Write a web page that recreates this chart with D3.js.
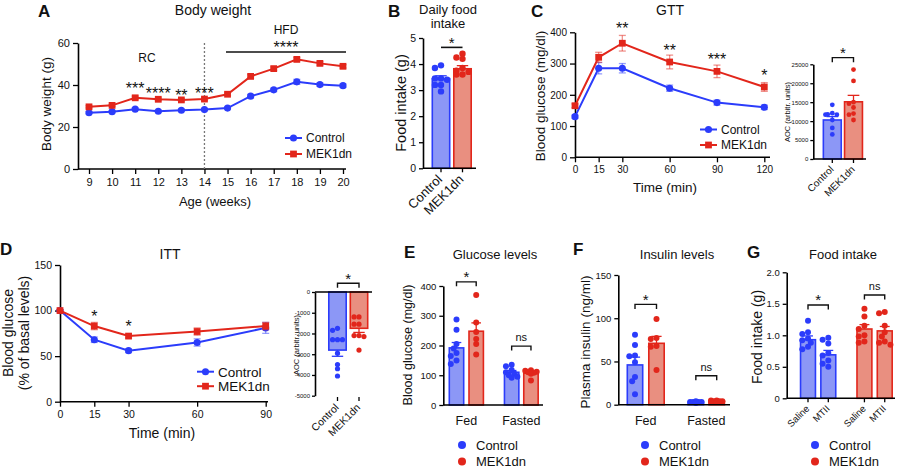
<!DOCTYPE html>
<html>
<head>
<meta charset="utf-8">
<script src="https://cdn.jsdelivr.net/npm/d3@7"></script>
<style>
  body { margin: 0; background: #fff; }
  svg { font-family: "Liberation Sans", Arial, sans-serif; }
</style>
</head>
<body>
<svg id="fig" width="900" height="474"></svg>
<script>
// ---------- data ----------
var groups = ['Control', 'MEK1dn'];

// A: body weight
var weeks = [9, 10, 11, 12, 13, 14, 15, 16, 17, 18, 19, 20];
var bwControl = [26.8, 27.3, 28.5, 27.5, 28.0, 28.3, 29.0, 34.7, 37.7, 41.5, 40.2, 39.7];
var bwControlSem = [0.5, 0.5, 0.5, 0.5, 0.5, 0.5, 0.5, 0.8, 0.8, 1.2, 0.8, 0.8];
var bwMek = [29.6, 30.3, 33.9, 33.2, 32.9, 33.3, 35.6, 44.1, 47.8, 52.2, 50.3, 48.9];
var bwMekSem = [0.5, 0.5, 0.8, 0.6, 0.6, 0.6, 0.6, 0.8, 0.8, 0.8, 0.8, 0.8];
var bwStars = [
  { x: 11, y: 40, label: '***' },
  { x: 12, y: 37.3, label: '****' },
  { x: 13, y: 36.4, label: '**' },
  { x: 14, y: 37.6, label: '***' }
];

// B: daily food intake
var dfControl = [3.95, 3.85, 3.45, 3.45, 3.4, 3.2, 3.2, 2.95];
var dfMek = [4.4, 4.25, 4.2, 3.85, 3.75, 3.7, 3.6, 3.6];
var dfMean = [3.44, 3.82];
var dfSem = [0.11, 0.12];

// C: GTT
var gttTime = [0, 15, 30, 60, 90, 120];
var gttControl = [130, 285, 285, 221, 175, 160];
var gttControlSem = [5, 18, 15, 10, 8, 7];
var gttMek = [165, 320, 365, 305, 275, 225];
var gttMekSem = [6, 16, 25, 22, 20, 14];
var gttStars = [
  { x: 30, y: 423, label: '**' },
  { x: 60, y: 353, label: '**' },
  { x: 90, y: 324, label: '***' },
  { x: 120, y: 273, label: '*' }
];
var gttAocControl = [14300, 12100, 11800, 11700, 11700, 10300, 8200, 6500];
var gttAocMek = [23600, 20600, 15000, 14600, 13600, 12000, 11700, 10300];
var gttAocMean = [10300, 15100];
var gttAocSem = [900, 1700];

// D: ITT
var ittTime = [0, 15, 30, 60, 90];
var ittControl = [100, 68, 56, 65, 81];
var ittControlSem = [1, 3, 2, 4, 6];
var ittMek = [100, 83, 72, 77, 83];
var ittMekSem = [1, 4, 2, 4, 4];
var ittStars = [
  { x: 15, y: 97, label: '*' },
  { x: 30, y: 86, label: '*' }
];
var ittAocControl = [-1750, -1850, -2300, -2300, -2300, -2950, -3500, -3700, -4050];
var ittAocMek = [-1200, -1200, -1550, -1550, -2100, -2100, -2150, -2800];
var ittAocMean = [-2800, -1750];
var ittAocSem = [300, 200];

// E: glucose levels
var glucCats = ['Fed', 'Fasted'];
var glucFedControl = [287, 253, 205, 190, 175, 165, 150, 138];
var glucFedMek = [370, 277, 245, 222, 205, 170];
var glucFastControl = [130, 135, 118, 110, 105, 100, 95, 92];
var glucFastMek = [117, 115, 112, 110, 108, 105, 82];
var glucMean = [192, 248, 110, 107];
var glucSem = [18, 28, 6, 4];

// F: insulin levels
var insCats = ['Fed', 'Fasted'];
var insFedControl = [81, 69, 57, 56, 49, 32, 27, 12];
var insFedMek = [99, 77, 76, 68, 67, 40];
var insFastControl = [3, 3, 3, 3, 3, 3, 2, 4];
var insFastMek = [5, 4, 4, 3, 5, 4, 3];
var insMean = [46, 71, 3, 4];
var insSem = [9, 8, 0.3, 0.4];

// G: food intake
var fiTreat = ['Saline', 'MTII'];
var fiControlSaline = [1.23, 1.05, 1.02, 0.95, 0.92, 0.88, 0.82, 0.78];
var fiControlMtii = [0.96, 0.93, 0.87, 0.72, 0.68, 0.6, 0.55, 0.5];
var fiMekSaline = [1.42, 1.30, 1.15, 1.10, 1.0, 0.98, 0.90, 0.88];
var fiMekMtii = [1.37, 1.35, 1.15, 1.05, 0.98, 0.90, 0.88, 0.85];
var fiMean = [0.93, 0.69, 1.10, 1.07];
var fiSem = [0.06, 0.07, 0.07, 0.07];

// ---------- styles ----------
var BLUE = '#2b3cfb', RED = '#e2261b';
var BLUEFILL = '#8c97f6', REDFILL = '#e98f80';
var svg = d3.select('#fig');
svg.append('rect').attr('width', 900).attr('height', 474).attr('fill', '#fff');

function styleAxis(ax, fs) {
  ax.attr('font-family', null).attr('font-size', null);
  ax.select('.domain').attr('stroke-width', 1.6);
  ax.selectAll('.tick line').attr('stroke-width', 1.3);
  ax.selectAll('.tick text').attr('font-size', fs).attr('fill', '#111');
}

function txt(x, y, s, fs, opt) {
  opt = opt || {};
  var t = svg.append('text').attr('x', x).attr('y', y).text(s)
    .attr('font-size', fs).attr('text-anchor', opt.anchor || 'middle').attr('fill', '#111');
  if (opt.bold) t.attr('font-weight', 'bold');
  if (opt.rot) t.attr('transform', 'rotate(' + opt.rot + ',' + x + ',' + y + ')');
  return t;
}

function star(x, cy, s, fs) {
  // asterisks sit high in the em box, shift baseline down
  return txt(x, cy + fs * 0.55, s, fs);
}

function bracket(x1, x2, yy, drop) {
  var p = d3.path();
  p.moveTo(x1, yy + drop); p.lineTo(x1, yy); p.lineTo(x2, yy); p.lineTo(x2, yy + drop);
  svg.append('path').attr('d', p.toString()).attr('fill', 'none')
    .attr('stroke', '#111').attr('stroke-width', 1.4);
}

var sym = {
  circle: d3.symbol().type(d3.symbolCircle).size(40),
  square: d3.symbol().type(d3.symbolSquare).size(46)
};

function lineLegend(x, y, fs, items) {
  items.forEach(function(it, i) {
    var yy = y + i * it.step;
    svg.append('line').attr('x1', x).attr('x2', x + 17).attr('y1', yy).attr('y2', yy)
      .attr('stroke', it.color).attr('stroke-width', 2);
    svg.append('path').attr('d', sym[it.shape]()).attr('fill', it.color)
      .attr('transform', 'translate(' + (x + 8.5) + ',' + yy + ')');
    txt(x + 21, yy + fs * 0.36, it.label, fs, { anchor: 'start' });
  });
}

function dotLegend(x, y, fs) {
  [BLUE, RED].forEach(function(col, i) {
    var yy = y + i * 16.5;
    svg.append('circle').attr('cx', x).attr('cy', yy).attr('r', 4).attr('fill', col);
    txt(x + 14, yy + fs * 0.36, groups[i], fs, { anchor: 'start' });
  });
}

// ---------- line panels ----------
function linePanel(c) {
  var g = svg.append('g');
  var x = d3.scaleLinear().domain(c.xDomain).range(c.xRange);
  var y = d3.scaleLinear().domain(c.yDomain).range(c.yRange);
  var y0 = c.yRange[0];

  var ya = g.append('g').attr('transform', 'translate(' + c.axisX + ',0)')
    .call(d3.axisLeft(y).tickValues(c.yTicks).tickSize(5).tickSizeOuter(0).tickPadding(3)
      .tickFormat(function(d) { return String(d); }));
  styleAxis(ya, c.tickFont);

  var xa = g.append('g').attr('transform', 'translate(0,' + y0 + ')')
    .call(d3.axisBottom(x).tickValues(c.xTicks).tickSize(5).tickPadding(4)
      .tickFormat(function(d) { return String(d); }));
  styleAxis(xa, c.tickFont);
  xa.select('.domain').remove();
  g.append('line').attr('x1', c.axisX).attr('x2', c.xAxisEnd).attr('y1', y0).attr('y2', y0)
    .attr('stroke', '#000').attr('stroke-width', 1.6);

  if (c.before) c.before(g, x, y);

  c.series.forEach(function(s) {
    var eb = g.append('g').attr('stroke', s.color).attr('stroke-opacity', 0.5).attr('stroke-width', 1.3);
    s.values.forEach(function(v, i) {
      var cx = x(c.xs[i]), lo = y(v - s.sem[i]), hi = y(v + s.sem[i]);
      eb.append('line').attr('x1', cx).attr('x2', cx).attr('y1', lo).attr('y2', hi);
      eb.append('line').attr('x1', cx - 3.5).attr('x2', cx + 3.5).attr('y1', lo).attr('y2', lo);
      eb.append('line').attr('x1', cx - 3.5).attr('x2', cx + 3.5).attr('y1', hi).attr('y2', hi);
    });
    g.append('path').datum(s.values).attr('fill', 'none').attr('stroke', s.color).attr('stroke-width', 2)
      .attr('d', d3.line().x(function(d, i) { return x(c.xs[i]); }).y(function(d) { return y(d); }));
    g.selectAll(null).data(s.values).enter().append('path')
      .attr('d', sym[s.shape]()).attr('fill', s.color)
      .attr('transform', function(d, i) { return 'translate(' + x(c.xs[i]) + ',' + y(d) + ')'; });
  });

  (c.stars || []).forEach(function(st) {
    star(x(st.x), y(st.y), st.label, c.starFont);
  });
  return { x: x, y: y };
}

// ---------- bar panels ----------
// simple deterministic swarm, points may overlap a little and stay inside the bar
function swarm(vals, cx, y, r, halfW) {
  var placed = [];
  vals.slice().sort(function(a, b) { return b - a; }).forEach(function(v) {
    var py = y(v), px = cx, offs = [0], step = r * 0.95;
    for (var j = 1; j * step <= halfW; j++) { offs.push(-j * step, j * step); }
    var best = null, bestD = -1;
    for (var k = 0; k < offs.length; k++) {
      px = cx + offs[k];
      var d = d3.min(placed, function(p) { return Math.hypot(p[0] - px, p[1] - py); });
      if (d === undefined || d >= 1.55 * r) { best = px; break; }
      if (d > bestD) { bestD = d; best = px; }
    }
    placed.push([best, py]);
  });
  return placed;
}

function barPanel(c) {
  var g = svg.append('g');
  var y = d3.scaleLinear().domain(c.yDomain).range(c.yRange);
  var base = y(0);
  var slot = d3.scaleLinear().domain([0, 1]).range(c.slotRange);

  var ya = g.append('g').attr('transform', 'translate(' + c.axisX + ',0)')
    .call(d3.axisLeft(y).tickValues(c.yTicks).tickSize(c.tickSize || 4).tickSizeOuter(0)
      .tickPadding(c.tickPad || 3).tickFormat(c.fmt || function(d) { return String(d); }));
  styleAxis(ya, c.tickFont);

  c.bars.forEach(function(b, i) {
    var cx = slot(b.slot), w = c.barW;
    var col = b.group === 0 ? BLUE : RED, fill = b.group === 0 ? BLUEFILL : REDFILL;
    var top = y(b.mean);
    g.append('rect').attr('x', cx - w / 2 + 0.8).attr('width', w - 1.6)
      .attr('y', Math.min(top, base)).attr('height', Math.abs(top - base))
      .attr('fill', fill).attr('stroke', col).attr('stroke-width', 1.6);
    var ey = y(b.mean + (b.mean >= 0 ? 1 : -1) * b.sem);
    g.append('line').attr('x1', cx).attr('x2', cx).attr('y1', top).attr('y2', ey)
      .attr('stroke', col).attr('stroke-width', 1.3);
    g.append('line').attr('x1', cx - w * 0.3).attr('x2', cx + w * 0.3).attr('y1', ey).attr('y2', ey)
      .attr('stroke', col).attr('stroke-width', 1.3);
    g.selectAll(null).data(swarm(b.values, cx, y, c.dotR, w / 2 - c.dotR * 0.6)).enter().append('circle')
      .attr('cx', function(d) { return d[0]; }).attr('cy', function(d) { return d[1]; })
      .attr('r', c.dotR).attr('fill', col);
  });

  g.append('line').attr('x1', c.axisX).attr('x2', c.xAxisEnd).attr('y1', base).attr('y2', base)
    .attr('stroke', '#000').attr('stroke-width', 1.6);

  if (c.rotLabels) {
    var ly = c.rotLabels.y;
    c.bars.forEach(function(b, i) {
      var cx = slot(b.slot);
      g.append('line').attr('x1', cx).attr('x2', cx).attr('y1', ly).attr('y2', ly + 4)
        .attr('stroke', '#000').attr('stroke-width', 1.3);
      txt(cx + 2, ly + 8 + c.rotLabels.fs * 0.3, c.rotLabels.texts[i], c.rotLabels.fs, { anchor: 'end', rot: -45 });
    });
  }
  if (c.catLabels) {
    c.catLabels.texts.forEach(function(t, k) {
      var cx = (slot(c.bars[2 * k].slot) + slot(c.bars[2 * k + 1].slot)) / 2;
      txt(cx, c.catLabels.y, t, c.catLabels.fs);
    });
  }
  (c.brackets || []).forEach(function(br) {
    var x1 = slot(c.bars[br.a].slot), x2 = slot(c.bars[br.b].slot), yy = y(br.level);
    if (br.plain) {
      svg.append('line').attr('x1', x1).attr('x2', x2).attr('y1', yy).attr('y2', yy)
        .attr('stroke', '#111').attr('stroke-width', 1.6);
    } else {
      bracket(x1, x2, yy, br.drop || 4.5);
    }
    if (br.label === 'ns') txt((x1 + x2) / 2, yy - 5, 'ns', c.nsFont || 11);
    else star((x1 + x2) / 2, yy - 8, br.label, 15);
  });
  return y;
}

// ================= Panel A =================
txt(38, 17, 'A', 17, { anchor: 'start', bold: true });
txt(213, 15, 'Body weight', 14);
linePanel({
  xDomain: [9, 20], xRange: [89, 343], yDomain: [0, 60], yRange: [169, 43],
  axisX: 78, xAxisEnd: 346, yTicks: [0, 20, 40, 60], xTicks: weeks, xs: weeks,
  tickFont: 11, starFont: 16,
  before: function(g, x, y) {
    g.append('line').attr('x1', x(14)).attr('x2', x(14)).attr('y1', y(60)).attr('y2', y(0))
      .attr('stroke', '#777').attr('stroke-width', 1.3).attr('stroke-dasharray', '2,2');
  },
  series: [
    { values: bwControl, sem: bwControlSem, color: BLUE, shape: 'circle' },
    { values: bwMek, sem: bwMekSem, color: RED, shape: 'square' }
  ],
  stars: bwStars
});
txt(147, 62, 'RC', 12);
txt(286, 34, 'HFD', 12);
svg.append('line').attr('x1', 226).attr('x2', 346).attr('y1', 52).attr('y2', 52)
  .attr('stroke', '#111').attr('stroke-width', 1.5);
star(286, 44, '****', 16);
txt(215, 206, 'Age (weeks)', 13);
txt(51, 104, 'Body weight (g)', 13.5, { rot: -90 });
lineLegend(285, 138, 12, [
  { label: 'Control', color: BLUE, shape: 'circle', step: 16 },
  { label: 'MEK1dn', color: RED, shape: 'square', step: 16 }
]);

// ================= Panel B =================
txt(388, 17, 'B', 17, { anchor: 'start', bold: true });
txt(448, 14, 'Daily food', 13);
txt(448, 28, 'intake', 13);
barPanel({
  yDomain: [0, 5], yRange: [168.3, 38], axisX: 423, xAxisEnd: 476,
  yTicks: [0, 1, 2, 3, 4, 5], tickFont: 10.5, slotRange: [441, 462.5], barW: 19, dotR: 3.2,
  bars: [
    { slot: 0, group: 0, values: dfControl, mean: dfMean[0], sem: dfSem[0] },
    { slot: 1, group: 1, values: dfMek, mean: dfMean[1], sem: dfSem[1] }
  ],
  rotLabels: { y: 168.3, fs: 13, texts: groups },
  brackets: [{ a: 0, b: 1, level: 4.64, label: '*', plain: true }]
});
txt(406, 103, 'Food intake (g)', 14.5, { rot: -90 });

// ================= Panel C =================
txt(531, 17, 'C', 17, { anchor: 'start', bold: true });
txt(670, 15, 'GTT', 14);
linePanel({
  xDomain: [0, 120], xRange: [575, 764.3], yDomain: [0, 400], yRange: [157.3, 32.3],
  axisX: 575, xAxisEnd: 770, yTicks: [0, 100, 200, 300, 400], xTicks: gttTime, xs: gttTime,
  tickFont: 10, starFont: 16,
  series: [
    { values: gttControl, sem: gttControlSem, color: BLUE, shape: 'circle' },
    { values: gttMek, sem: gttMekSem, color: RED, shape: 'square' }
  ],
  stars: gttStars
});
txt(665, 192, 'Time (min)', 13.5);
txt(545, 96, 'Blood glucose (mg/dl)', 13.5, { rot: -90 });
lineLegend(700, 129.5, 12, [
  { label: 'Control', color: BLUE, shape: 'circle', step: 15.5 },
  { label: 'MEK1dn', color: RED, shape: 'square', step: 15.5 }
]);
barPanel({
  yDomain: [0, 25000], yRange: [159, 64.3], axisX: 813.3, xAxisEnd: 866,
  yTicks: [0, 5000, 10000, 15000, 20000, 25000], tickFont: 6, tickSize: 3, tickPad: 2,
  slotRange: [832.3, 853.5], barW: 19.5, dotR: 2.4,
  bars: [
    { slot: 0, group: 0, values: gttAocControl, mean: gttAocMean[0], sem: gttAocSem[0] },
    { slot: 1, group: 1, values: gttAocMek, mean: gttAocMean[1], sem: gttAocSem[1] }
  ],
  rotLabels: { y: 159, fs: 10, texts: groups },
  brackets: [{ a: 0, b: 1, level: 26760, label: '*', drop: 4.5 }]
});
txt(790, 112, 'AOC (arbitr. units)', 7.5, { rot: -90 });

// ================= Panel D =================
txt(0, 255, 'D', 17, { anchor: 'start', bold: true });
txt(170, 259, 'ITT', 14);
linePanel({
  xDomain: [0, 90], xRange: [60, 265.7], yDomain: [0, 150], yRange: [401.7, 265],
  axisX: 60, xAxisEnd: 268, yTicks: [0, 50, 100, 150], xTicks: ittTime, xs: ittTime,
  tickFont: 10.5, starFont: 16,
  series: [
    { values: ittControl, sem: ittControlSem, color: BLUE, shape: 'circle' },
    { values: ittMek, sem: ittMekSem, color: RED, shape: 'square' }
  ],
  stars: ittStars
});
txt(162, 438, 'Time (min)', 14);
txt(12.5, 333, 'Blood glucose', 14, { rot: -90 });
txt(28.5, 333, '(% of basal levels)', 14, { rot: -90 });
lineLegend(197, 371.7, 13.5, [
  { label: 'Control', color: BLUE, shape: 'circle', step: 14.5 },
  { label: 'MEK1dn', color: RED, shape: 'square', step: 14.5 }
]);
barPanel({
  yDomain: [-5000, 0], yRange: [395.7, 292], axisX: 315, xAxisEnd: 372,
  yTicks: [0, -1000, -2000, -3000, -4000, -5000], tickFont: 6, tickSize: 3, tickPad: 2,
  slotRange: [337.5, 359], barW: 19, dotR: 2.6,
  bars: [
    { slot: 0, group: 0, values: ittAocControl, mean: ittAocMean[0], sem: ittAocSem[0] },
    { slot: 1, group: 1, values: ittAocMek, mean: ittAocMean[1], sem: ittAocSem[1] }
  ],
  rotLabels: { y: 397, fs: 10.5, texts: groups },
  brackets: [{ a: 0, b: 1, level: 420, label: '*', drop: 4.5 }]
});
txt(299, 345, 'AOC (arbitr. units)', 7.5, { rot: -90 });

// ================= Panel E =================
txt(404, 258, 'E', 17, { anchor: 'start', bold: true });
txt(495, 259, 'Glucose levels', 13);
barPanel({
  yDomain: [0, 400], yRange: [405, 286], axisX: 443.3, xAxisEnd: 543,
  yTicks: [0, 100, 200, 300, 400], tickFont: 9.5, slotRange: [456.5, 476.2], barW: 16, dotR: 3,
  bars: [
    { slot: 0, group: 0, values: glucFedControl, mean: glucMean[0], sem: glucSem[0] },
    { slot: 1, group: 1, values: glucFedMek, mean: glucMean[1], sem: glucSem[1] },
    { slot: 2.8, group: 0, values: glucFastControl, mean: glucMean[2], sem: glucSem[2] },
    { slot: 3.78, group: 1, values: glucFastMek, mean: glucMean[3], sem: glucSem[3] }
  ],
  catLabels: { y: 425, fs: 12.5, texts: glucCats },
  brackets: [
    { a: 0, b: 1, level: 414, label: '*' },
    { a: 2, b: 3, level: 198, label: 'ns' }
  ]
});
txt(412, 345, 'Blood glucose (mg/dl)', 12.5, { rot: -90 });
dotLegend(462, 445, 13);

// ================= Panel F =================
txt(573, 255, 'F', 17, { anchor: 'start', bold: true });
txt(677, 259, 'Insulin levels', 13);
barPanel({
  yDomain: [0, 150], yRange: [404.7, 275], axisX: 618.3, xAxisEnd: 730,
  yTicks: [0, 50, 100, 150], tickFont: 9.5, slotRange: [635, 656.5], barW: 17, dotR: 3,
  bars: [
    { slot: 0, group: 0, values: insFedControl, mean: insMean[0], sem: insSem[0] },
    { slot: 1, group: 1, values: insFedMek, mean: insMean[1], sem: insSem[1] },
    { slot: 2.83, group: 0, values: insFastControl, mean: insMean[2], sem: insSem[2] },
    { slot: 3.8, group: 1, values: insFastMek, mean: insMean[3], sem: insSem[3] }
  ],
  catLabels: { y: 425, fs: 12.5, texts: insCats },
  brackets: [
    { a: 0, b: 1, level: 116, label: '*' },
    { a: 2, b: 3, level: 33.5, label: 'ns' }
  ]
});
txt(590, 342, 'Plasma insulin (ng/ml)', 13.5, { rot: -90 });
dotLegend(645, 445, 13);

// ================= Panel G =================
txt(747, 258, 'G', 17, { anchor: 'start', bold: true });
txt(843, 259, 'Food intake', 13);
barPanel({
  yDomain: [0, 2], yRange: [398.3, 272.3], axisX: 786.7, xAxisEnd: 895,
  yTicks: [0, 0.5, 1, 1.5, 2], tickFont: 9.5,
  fmt: function(d) { return d === 0 ? '0' : d.toFixed(1); },
  slotRange: [808, 828.3], barW: 16.5, dotR: 3,
  bars: [
    { slot: 0, group: 0, values: fiControlSaline, mean: fiMean[0], sem: fiSem[0] },
    { slot: 1, group: 0, values: fiControlMtii, mean: fiMean[1], sem: fiSem[1] },
    { slot: 2.78, group: 1, values: fiMekSaline, mean: fiMean[2], sem: fiSem[2] },
    { slot: 3.78, group: 1, values: fiMekMtii, mean: fiMean[3], sem: fiSem[3] }
  ],
  rotLabels: { y: 398.3, fs: 9.5, texts: [fiTreat[0], fiTreat[1], fiTreat[0], fiTreat[1]] },
  brackets: [
    { a: 0, b: 1, level: 1.48, label: '*' },
    { a: 2, b: 3, level: 1.64, label: 'ns' }
  ]
});
txt(762, 337, 'Food intake (g)', 14, { rot: -90 });
dotLegend(815, 445, 13);
</script>
</body>
</html>
